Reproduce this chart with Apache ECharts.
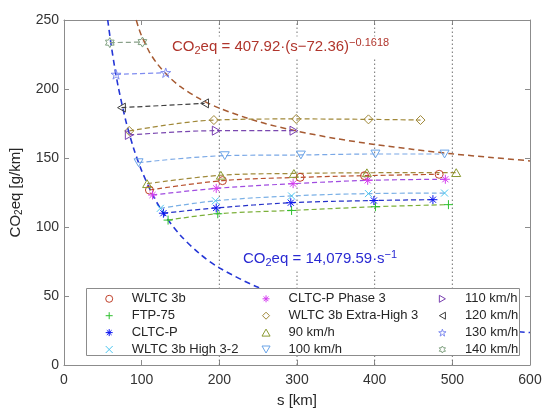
<!DOCTYPE html>
<html><head><meta charset="utf-8">
<script src="https://cdn.jsdelivr.net/npm/echarts@6/dist/echarts.min.js"></script>
<style>html,body{margin:0;padding:0;background:#fff}#c{width:550px;height:419px}</style>
</head><body><div id="c"></div>
<script>
// ---- data (s [km], CO2eq [g/km]) ----
const xTicks = [0, 100, 200, 300, 400, 500, 600];
const yTicks = [0, 50, 100, 150, 200, 250];
const vLines = [200, 300, 400, 500];

const wltc3b      = [[110,126.8],[204,133.6],[304,136.0],[387,137.2],[483,138.2]];
const ftp75       = [[134,105.0],[198,109.6],[293,112.0],[401,114.7],[495,116.2]];
const cltcP       = [[128,110.0],[196,113.8],[292,117.6],[399,119.2],[475,119.8]];
const wltcHigh32  = [[124,113.5],[195,119.0],[293,122.5],[392,124.2],[490,124.6]];
const cltcPhase3  = [[114,123.2],[196,128.0],[295,131.4],[391,133.8],[491,134.6]];
const wltcXHigh3  = [[84,169.6],[193,177.5],[299,178.3],[392,178.0],[459,177.5]];
const kmh90       = [[107,131.4],[202,137.5],[296,138.8],[390,139.3],[505,139.4]];
const kmh100      = [[96,146.6],[207,151.7],[305,152.2],[401,152.9],[490,152.9]];
const kmh110      = [[84,166.7],[196,169.8],[296,169.8]];
const kmh120      = [[74,186.5],[181,189.6]];
const kmh130      = [[67,210.6],[131,211.8]];
const kmh140      = [[59,233.6],[101,234.0]];

// fitted curves
const powS   = [93, 96, 100, 110, 120, 135, 150, 175, 200, 250, 300, 350, 400, 450, 500, 550, 600];
const powCO2 = [250, 244.5, 238.4, 226.8, 218.3, 208.9, 201.7, 192.8, 186.1, 176.4, 169.5, 164.1, 159.8, 156.2, 153.0, 150.4, 147.9];
const invS   = [56.3, 60, 65, 70, 80, 90, 100, 115, 130, 150, 175, 200, 250, 300, 350, 400, 450, 500, 550, 600];
const invCO2 = [250, 234.7, 216.6, 201.1, 176.0, 156.4, 140.8, 122.4, 108.3, 93.9, 80.5, 70.4, 56.3, 46.9, 40.2, 35.2, 31.3, 28.2, 25.6, 23.5];

const legendCols = [
  ['WLTC 3b', 'FTP-75', 'CLTC-P', 'WLTC 3b High 3-2'],
  ['CLTC-P Phase 3', 'WLTC 3b Extra-High 3', '90 km/h', '100 km/h'],
  ['110 km/h', '120 km/h', '130 km/h', '140 km/h']
];

// ---- styles ----
const FONT = 'Liberation Sans, Arial, Helvetica, sans-serif';
const AX = '#8c8c8c';
const SYM = {
  circle: 'circle',
  plus: 'path://M5,0L5,10M0,5L10,5',
  asterisk: 'path://M5,0L5,10M0,5L10,5M1.6,1.6L8.4,8.4M1.6,8.4L8.4,1.6',
  cross: 'path://M0,0L10,10M0,10L10,0',
  diamond: 'path://M5,0L10,5L5,10L0,5Z',
  triUp: 'path://M5,0L10,8.66L0,8.66Z',
  triDown: 'path://M0,0L10,0L5,8.66Z',
  triRight: 'path://M0,0L8.66,5L0,10Z',
  triLeft: 'path://M8.66,0L0,5L8.66,10Z',
  star: 'path://M5,0L6.123,3.455L9.755,3.455L6.817,5.59L7.939,9.045L5,6.91L2.061,9.045L3.183,5.59L0.245,3.455L3.877,3.455Z',
  hexagram: 'path://M5,0L6.443,2.5L9.33,2.5L7.887,5L9.33,7.5L6.443,7.5L5,10L3.557,7.5L0.67,7.5L2.113,5L0.67,2.5L3.557,2.5Z'
};

const defs = [
  {name:'WLTC 3b', data:wltc3b, sym:SYM.circle, size:8, color:'#c0402a', line:'#b8502e'},
  {name:'FTP-75', data:ftp75, sym:SYM.plus, size:9, color:'#2fc02f', line:'#7cb03a'},
  {name:'CLTC-P', data:cltcP, sym:SYM.asterisk, size:9, color:'#0a14f0', line:'#2430c8'},
  {name:'WLTC 3b High 3-2', data:wltcHigh32, sym:SYM.cross, size:7, color:'#4cc6f0', line:'#7ab0e6'},
  {name:'CLTC-P Phase 3', data:cltcPhase3, sym:SYM.asterisk, size:9, color:'#d43cf0', line:'#a04ce0'},
  {name:'WLTC 3b Extra-High 3', data:wltcXHigh3, sym:SYM.diamond, size:9, color:'#a08838', line:'#a08838'},
  {name:'90 km/h', data:kmh90, sym:SYM.triUp, size:9, color:'#8a9a30', line:'#a08a3a'},
  {name:'100 km/h', data:kmh100, sym:SYM.triDown, size:9, color:'#6aa4e8', line:'#7aa8e6'},
  {name:'110 km/h', data:kmh110, sym:SYM.triRight, size:9, color:'#7a40b0', line:'#7a48b0'},
  {name:'120 km/h', data:kmh120, sym:SYM.triLeft, size:9, color:'#404040', line:'#404040'},
  {name:'130 km/h', data:kmh130, sym:SYM.star, size:10, color:'#7f8cf0', line:'#7f8cf0'},
  {name:'140 km/h', data:kmh140, sym:SYM.hexagram, size:10, color:'#7fa07f', line:'#8aa08a'}
];
const byName = {};
defs.forEach(d => byName[d.name] = d);

const series = [];
vLines.forEach(v => series.push({
  type:'line', data:[[v, yTicks[0]], [v, yTicks[yTicks.length-1]]], symbol:'none', silent:true, z:1,
  lineStyle:{color:'#707070', width:1, type:[1.5,2.5]}, emphasis:{disabled:true}
}));
series.push({
  name:'fitPow', type:'line', data: powS.map((s,i)=>[s, powCO2[i]]), symbol:'none', smooth:0.3, silent:true,
  lineStyle:{color:'#a65a32', width:1.5, type:[6,4]}, emphasis:{disabled:true}
});
series.push({
  name:'fitInv', type:'line', data: invS.map((s,i)=>[s, invCO2[i]]), symbol:'none', smooth:0.3, silent:true,
  lineStyle:{color:'#2536d6', width:1.6, type:[6,4]}, emphasis:{disabled:true}
});
defs.forEach(d => series.push({
  name:d.name, type:'line', data:d.data, symbol:d.sym, symbolSize:d.size, symbolKeepAspect:true,
  smooth:0.35, silent:true,
  itemStyle:{color:'rgba(0,0,0,0)', borderColor:d.color, borderWidth:1},
  lineStyle:{color:d.line, width:1.2, type:[5,3]},
  emphasis:{disabled:true}
}));

const legendLeft = [105.2, 261.5, 438.2];
const legends = legendCols.map((col, i) => ({
  orient:'vertical', left:legendLeft[i], top:292.3, itemWidth:35, itemHeight:7, itemGap:3.9,
  padding:0, selectedMode:false, zlevel:1, z:6,
  textStyle:{fontSize:13, lineHeight:12, color:'#262626', fontFamily:FONT},
  data: col.map(n => ({name:n, icon:byName[n].sym,
    itemStyle:{color:'rgba(0,0,0,0)', borderColor:byName[n].color, borderWidth:1}}))
}));

const axisCommon = {
  axisLine:{show:true, onZero:false, lineStyle:{color:AX, width:1}},
  axisTick:{show:true, inside:true, length:5, lineStyle:{color:AX}},
  splitLine:{show:false}
};

const chart = echarts.init(document.getElementById('c'), null, {renderer:'canvas'});
chart.setOption({
  animation:false,
  backgroundColor:'#fff',
  grid:{left:64, right:20, top:20, bottom:54, outerBoundsMode:'none'},
  xAxis:[
    Object.assign({type:'value', min:xTicks[0], max:xTicks[xTicks.length-1], interval:100, position:'bottom',
      axisLabel:{margin:8, fontSize:14, color:'#333', fontFamily:FONT},
      name:'s [km]', nameLocation:'middle', nameGap:28,
      nameTextStyle:{fontSize:15, color:'#262626', fontFamily:FONT}}, axisCommon),
    Object.assign({type:'value', min:xTicks[0], max:xTicks[xTicks.length-1], interval:100, position:'top',
      axisLabel:{show:false}}, axisCommon)
  ],
  yAxis:[
    Object.assign({type:'value', min:yTicks[0], max:yTicks[yTicks.length-1], interval:50, position:'left',
      axisLabel:{margin:5, fontSize:14, color:'#333', fontFamily:FONT},
      name:'CO{s|2}eq [g/km]', nameLocation:'middle', nameGap:34,
      nameTextStyle:{fontSize:15, color:'#262626', fontFamily:FONT, lineHeight:18,
        rich:{s:{fontSize:10, lineHeight:5, verticalAlign:'bottom', fontFamily:FONT, color:'#262626'}}}}, axisCommon),
    Object.assign({type:'value', min:yTicks[0], max:yTicks[yTicks.length-1], interval:50, position:'right',
      axisLabel:{show:false}}, axisCommon)
  ],
  legend: legends,
  graphic:{
    zlevel:1, z:3,
    elements:[
    {type:'rect', zlevel:1, z:3, silent:true, shape:{x:86.5, y:288.5, width:433, height:67},
      style:{fill:'#fff', stroke:'#8c8c8c', lineWidth:1}},
    {type:'text', zlevel:1, z:10, silent:true, x:170, y:47,
      style:{text:'{a|CO}{b|2}{a|eq = 407.92·(s−72.36)}{c|−0.1618}', verticalAlign:'middle',
        backgroundColor:'#fff', padding:[1,2],
        rich:{
          a:{fontSize:15, fontFamily:FONT, fill:'#b0352c', lineHeight:19},
          b:{fontSize:11, fontFamily:FONT, fill:'#b0352c', lineHeight:5, verticalAlign:'bottom'},
          c:{fontSize:11, fontFamily:FONT, fill:'#b0352c', lineHeight:4, verticalAlign:'top'}
        }}},
    {type:'text', zlevel:1, z:10, silent:true, x:241, y:259,
      style:{text:'{a|CO}{b|2}{a|eq = 14,079.59·s}{c|−1}', verticalAlign:'middle',
        backgroundColor:'#fff', padding:[1,2],
        rich:{
          a:{fontSize:15, fontFamily:FONT, fill:'#2a2ad2', lineHeight:19},
          b:{fontSize:11, fontFamily:FONT, fill:'#2a2ad2', lineHeight:5, verticalAlign:'bottom'},
          c:{fontSize:11, fontFamily:FONT, fill:'#2a2ad2', lineHeight:4, verticalAlign:'top'}
        }}}
    ]
  },
  series: series
});
</script>
</body></html>
